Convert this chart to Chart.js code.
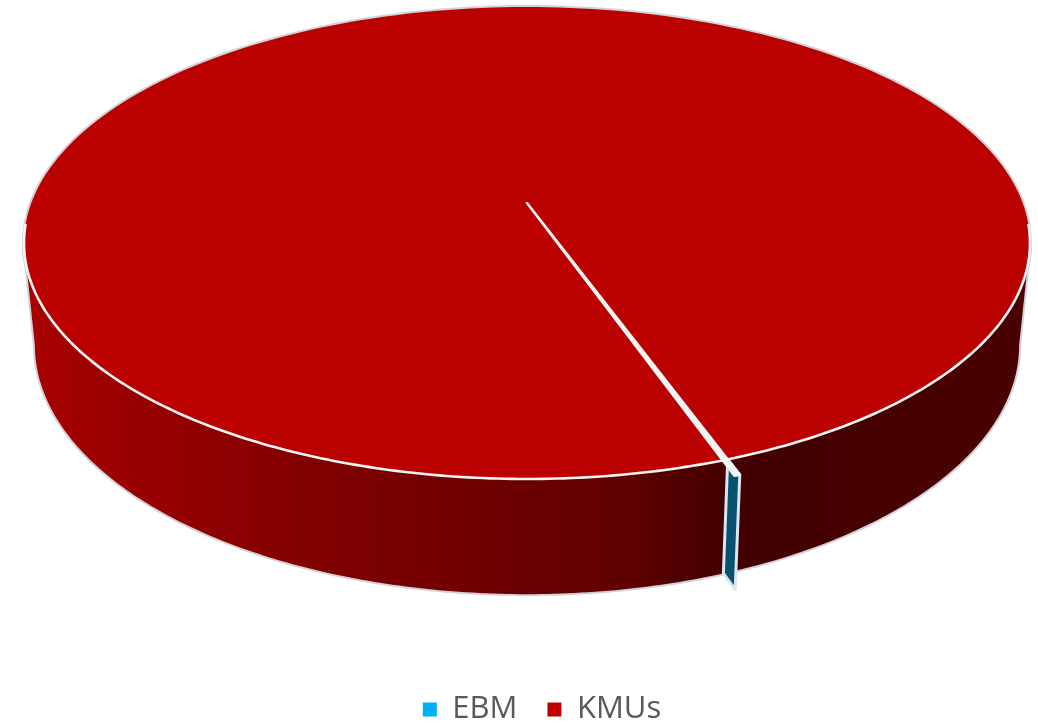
<!DOCTYPE html>
<html>
<head>
<meta charset="utf-8">
<title>EBM / KMUs</title>
<script src="https://cdn.jsdelivr.net/npm/chart.js@4"></script>
<style>
  html, body { margin: 0; padding: 0; background: #fff; }
  canvas { display: block; }
</style>
</head>
<body>
<canvas id="pie" width="1038" height="727"></canvas>
<script>
const categories = ['EBM', 'KMUs'];
const shares = [0.15, 99.85];
const sliceColors = ['#00B0F0', '#C00000'];

// perspective of the disc: k tilts the circle, top and bottom are the two faces
const k = -0.1695;
const topFace = { x: 527, y: 203, a: 495.7, b: 229.2 };
const bottomFace = { x: 527, y: 303, a: 485, b: 241.8 };
const pull = 1.05; // EBM slice sticks out a little

function project(face, angle, r) {
    const u = Math.cos(angle) * r;
    const v = Math.sin(angle) * r;
    const w = 1 + k * v;
    return [face.x + face.a * u / w, face.y + face.b * v / w];
}

function sweep(ctx, face, from, to, r) {
    const steps = 240;
    for (let i = 0; i <= steps; i++) {
        const p = project(face, from + (to - from) * i / steps, r);
        ctx.lineTo(p[0], p[1]);
    }
}

const disc3d = {
    id: 'disc3d',
    beforeDatasetsDraw(chart) {
        const ctx = chart.ctx;
        const arcs = chart.getDatasetMeta(0).data;
        const ebm = arcs[0];
        const kmu = arcs[1];
        const edge = Math.asin(-k);

        const wallPath = () => {
            ctx.beginPath();
            sweep(ctx, topFace, edge, Math.PI - edge, 1);
            sweep(ctx, bottomFace, Math.PI - edge, edge, 1);
            ctx.closePath();
        };
        const topPath = () => {
            ctx.beginPath();
            ctx.moveTo(topFace.x, topFace.y);
            sweep(ctx, topFace, kmu.startAngle, kmu.endAngle, 1);
            ctx.closePath();
        };

        ctx.save();
        ctx.lineJoin = 'round';

        // grey outline round the whole shape
        ctx.strokeStyle = '#d2d3d8';
        ctx.lineWidth = 4;
        wallPath();
        ctx.stroke();
        topPath();
        ctx.stroke();

        // side wall
        const shade = ctx.createLinearGradient(30, 0, 1025, 0);
        shade.addColorStop(0, '#a80000');
        shade.addColorStop(0.17, '#900000');
        shade.addColorStop(0.37, '#780000');
        shade.addColorStop(0.6, '#600000');
        shade.addColorStop(0.69, '#460000');
        shade.addColorStop(0.72, '#420000');
        shade.addColorStop(1, '#4a0000');
        ctx.fillStyle = shade;
        wallPath();
        ctx.fill();

        // top face
        ctx.fillStyle = '#bb0000';
        topPath();
        ctx.fill();

        // white rim on the front
        ctx.strokeStyle = '#f4f4f4';
        ctx.lineWidth = 2.6;
        ctx.beginPath();
        sweep(ctx, topFace, edge - 0.08, Math.PI - edge + 0.08, 1);
        ctx.stroke();

        // cut face of the EBM slice
        const a = ebm.startAngle;
        const c1 = project(topFace, a, 1);
        const c2 = project(topFace, a, pull);
        const c3 = project(bottomFace, a, pull);
        const c4 = project(bottomFace, a, 1);
        ctx.fillStyle = '#0a5170';
        ctx.strokeStyle = '#dbe7ef';
        ctx.lineWidth = 3;
        ctx.beginPath();
        ctx.moveTo(c1[0], c1[1]);
        ctx.lineTo(c2[0], c2[1]);
        ctx.lineTo(c3[0], c3[1]);
        ctx.lineTo(c4[0], c4[1]);
        ctx.closePath();
        ctx.fill();
        ctx.stroke();

        // EBM slice itself, so thin that its white border covers it
        ctx.fillStyle = ebm.options.backgroundColor;
        ctx.strokeStyle = '#f6f6f6';
        ctx.lineWidth = 2.4;
        ctx.beginPath();
        ctx.moveTo(topFace.x, topFace.y);
        sweep(ctx, topFace, ebm.startAngle, ebm.endAngle, pull);
        ctx.closePath();
        ctx.fillStyle = '#f6f6f6';
        ctx.fill();
        ctx.stroke();

        ctx.restore();
        return false; // the flat arcs are replaced by the disc above
    }
};

new Chart(document.getElementById('pie'), {
    type: 'pie',
    data: {
        labels: categories,
        datasets: [{ data: shares, backgroundColor: sliceColors, borderWidth: 0 }]
    },
    options: {
        responsive: false,
        animation: false,
        rotation: 160.1,
        layout: { padding: { left: 46, bottom: -8 } },
        plugins: {
            tooltip: { enabled: false },
            legend: {
                position: 'bottom',
                labels: {
                    color: '#595959',
                    font: { family: '"Open Sans"', size: 31 },
                    boxWidth: 14,
                    boxHeight: 14,
                    padding: 30
                }
            }
        }
    },
    plugins: [disc3d]
});
</script>
</body>
</html>
